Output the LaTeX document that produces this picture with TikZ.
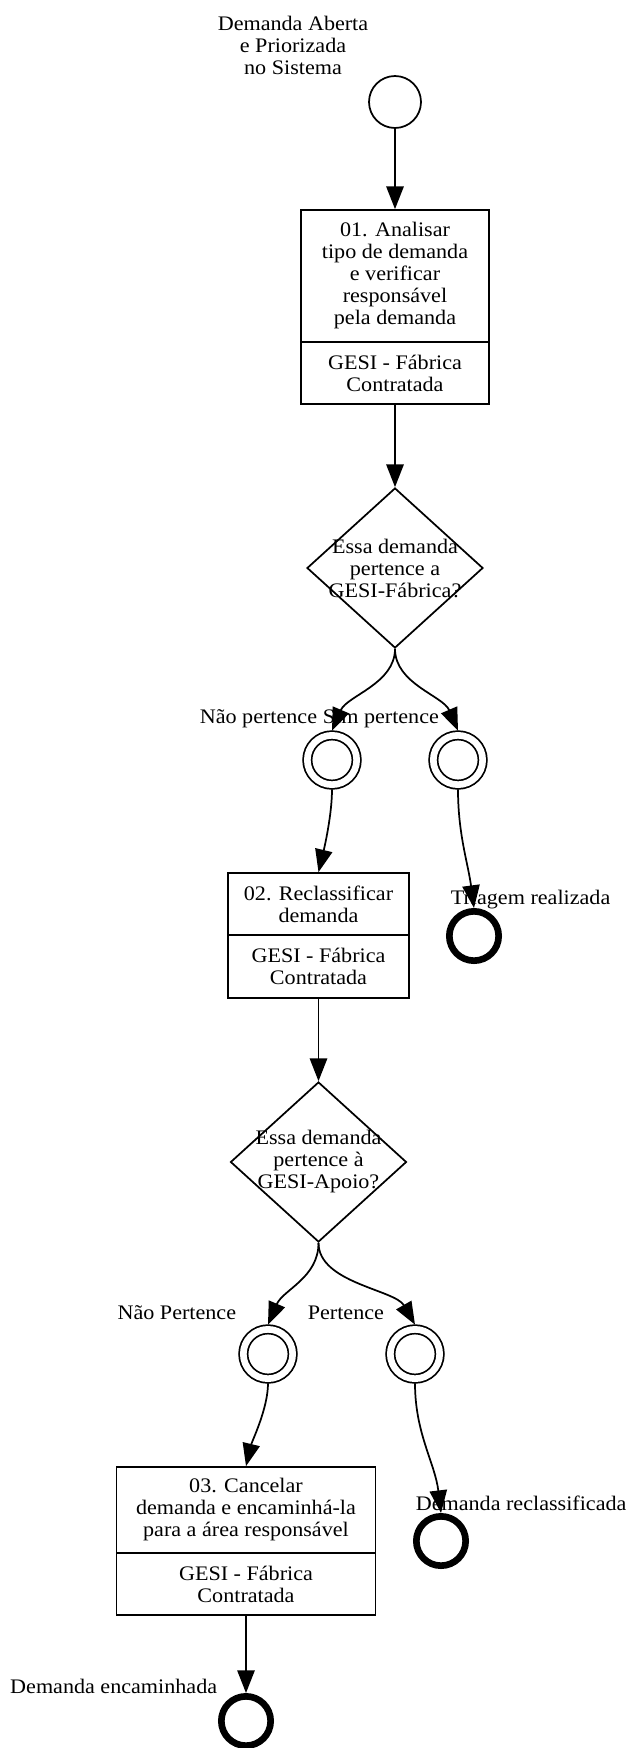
\documentclass[tikz,border=0pt]{standalone}
\usepackage{fontspec}
\setmainfont{Liberation Serif}[FakeStretch=1.07]
\usetikzlibrary{shapes,arrows.meta,positioning}

\begin{document}
\begin{tikzpicture}[x=0.75pt,y=-0.75pt,line width=1.3pt,font=\fontsize{15.5}{16.5}\selectfont]
\tikzstyle{task}=[draw, rectangle, align=center, inner sep=0pt, minimum width=141pt]
\tikzstyle{gate}=[draw, diamond, inner sep=0pt, minimum width=132pt, minimum height=120pt]
\tikzstyle{startev}=[draw, circle, minimum size=39pt, inner sep=0pt]
\tikzstyle{midev}=[draw, circle, double, double distance=5pt, minimum size=37pt, inner sep=0pt, outer sep=3.5pt]
\tikzstyle{endev}=[draw, circle, line width=5pt, minimum size=37pt, inner sep=0pt]
\tikzstyle{lbl}=[inner sep=0pt, align=center]
\tikzstyle{flow}=[-{Triangle[length=17pt,width=13pt]}]
\useasboundingbox (0,0) rectangle (630,1748);

% labels
\node[lbl] (l0) at (293,45) {Demanda Aberta\\e Priorizada\\no Sistema};
\node[lbl, anchor=east] (l1) at (318,719) {Não pertence};
\node[lbl, anchor=west] (l2) at (322,719) {Sim pertence};
\node[lbl, anchor=west] (l3) at (450,900) {Triagem realizada};
\node[lbl, anchor=east] (l4) at (237,1313) {Não Pertence};
\node[lbl, anchor=west] (l5) at (307,1313) {Pertence};
\node[lbl, anchor=west] (l6) at (415,1503) {Demanda reclassificada};
\node[lbl, anchor=east] (l7) at (218,1686) {Demanda encaminhada};

% events
\node[startev] (s0) at (395,102) {};
\foreach \name/\x/\y in {1/332/760,2/458/760,3/268/1354,4/415/1354}
    \node[midev] (m\name) at (\x,\y) {};
\foreach \name/\x/\y in {1/474/936,2/441/1541,3/246/1721}
    \node[endev] (f\name) at (\x,\y) {};

% tasks
\node[task, minimum height=99pt] (t1) at (395,276) {01. Analisar\\tipo de demanda\\e verificar\\responsável\\pela demanda};
\node[task, minimum height=46.5pt] (r1) at (395,373) {GESI - Fábrica\\Contratada};
\node[task, minimum width=135.75pt, minimum height=46.5pt] (t2) at (318.5,904) {02. Reclassificar\\demanda};
\node[task, minimum width=135.75pt, minimum height=47.25pt] (r2) at (318.5,966.5) {GESI - Fábrica\\Contratada};
\node[task, minimum width=194.25pt, minimum height=64.5pt] (t3) at (246,1510) {03. Cancelar\\demanda e encaminhá-la\\para a área responsável};
\node[task, minimum width=194.25pt, minimum height=46.5pt] (r3) at (246,1584) {GESI - Fábrica\\Contratada};

% gateways
\node[gate] (d1) at (395,568) {};
\node[lbl] (d1t) at (d1) {Essa demanda\\pertence a\\GESI-Fábrica?};
\node[gate] (d2) at (318.5,1162) {};
\node[lbl] (d2t) at (d2) {Essa demanda\\pertence à\\GESI-Apoio?};

% flows
\draw[flow] (s0) -- (t1);
\draw[flow] (r1) -- (d1);
\draw[flow] (d1.south) .. controls +(0,35) and +(15,-35) .. (m1.north);
\draw[flow] (d1.south) .. controls +(0,35) and +(-15,-35) .. (m2.north);
\draw[flow] (m1.south) .. controls +(0,25) and +(6,-25) .. (t2.north);
\draw[flow] (m2.south) .. controls +(0,45) and +(-6,-45) .. (f1.north);
\draw[flow] (r2) -- (d2);
\draw[flow] (d2.south) .. controls +(0,35) and +(15,-35) .. (m3.north);
\draw[flow] (d2.south) .. controls +(0,40) and +(-20,-35) .. (m4.north);
\draw[flow] (m3.south) .. controls +(0,25) and +(6,-25) .. (t3.north);
\draw[flow] (m4.south) .. controls +(0,50) and +(-6,-50) .. (f2.north);
\draw[flow] (r3) -- (f3);
\end{tikzpicture}
\end{document}
